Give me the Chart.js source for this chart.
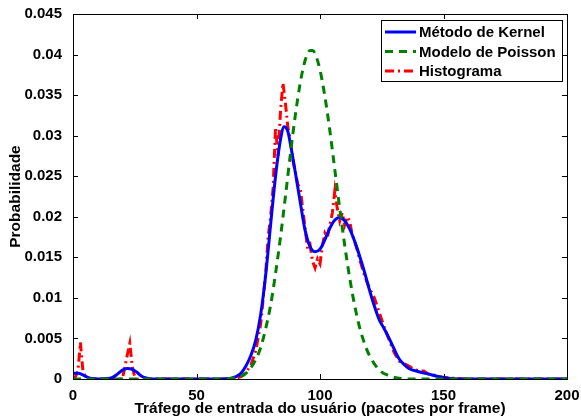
<!DOCTYPE html>
<html>
<head>
<meta charset="utf-8">
<script src="https://cdn.jsdelivr.net/npm/chart.js@4.4.1/dist/chart.umd.min.js"></script>
<style>
html,body{margin:0;padding:0;background:#fff}
</style>
</head>
<body>
<canvas id="chart" width="581" height="419"></canvas>
<script>
// values
const kernelX = [0,2,4,6,8,10,14,16,18,20,22,24,26,28,30,32,60,64,66,68,70,72,74,76,78,80,82,84,85.5,87,88,90,92,94,96,98,100,102,104,106,108,110,112,114,116,118,120,122,124,126,128,130,132,134,136,140,144,148,152,156,200];
const kernelY = [0.0007,0.0007,0.0005,0.0002,0.00005,0,0.00005,0.0002,0.0006,0.0011,0.0013,0.0012,0.0008,0.0003,0.0001,0,0,0.0001,0.0003,0.0007,0.0016,0.0029,0.0048,0.0080,0.0128,0.0190,0.0250,0.0295,0.0311,0.0305,0.0290,0.0255,0.0218,0.0183,0.0163,0.0157,0.0160,0.0172,0.0186,0.0196,0.0199,0.0195,0.0185,0.0170,0.0152,0.0132,0.0110,0.0090,0.0073,0.0062,0.0050,0.0037,0.0025,0.0018,0.0013,0.0009,0.0006,0.0003,0.0001,0,0];

const poissonX = [0,60,66,70,74,76,78,80,82,84,86,88,90,92,94,96,97,98,100,102,104,106,108,110,112,114,116,118,120,124,128,132,138,200];
const poissonY = [0,0,0.0002,0.0007,0.0024,0.0039,0.0062,0.0091,0.0130,0.0175,0.0225,0.0277,0.0325,0.0365,0.0393,0.0405,0.0405,0.0401,0.0381,0.0348,0.0306,0.0258,0.0210,0.0165,0.0125,0.0091,0.0064,0.0044,0.0029,0.0011,0.0004,0.0001,0,0];

const histX = [0,1,2,3,4,5,6,20,21,22,23,24,25,26,64,66,68,70,72,74,76,78,79,80,81,82,83,84,85,86,87,88,89,90,91,92,93,94,95,96,97,98,99,100,101,102,103,104,105,106,107,108,109,110,111,112,113,114,115,116,117,118,120,122,124,126,128,130,132,134,136,138,140,142,144,146,148,150,154,158,200];
const histY = [0,0.0003,0.0010,0.0045,0.0010,0.0003,0,0,0.0015,0.0030,0.0044,0.0015,0.0003,0,0,0.0001,0.0003,0.0008,0.0017,0.0035,0.0068,0.0130,0.0175,0.0200,0.0235,0.0310,0.0275,0.0330,0.0365,0.0340,0.0310,0.0295,0.0270,0.0255,0.0240,0.0235,0.0210,0.0185,0.0160,0.0165,0.0145,0.0137,0.0148,0.0142,0.0165,0.0180,0.0175,0.0190,0.0205,0.0232,0.0210,0.0195,0.0205,0.0190,0.0200,0.0195,0.0178,0.0170,0.0160,0.0148,0.0138,0.0128,0.0112,0.0100,0.0082,0.0064,0.0048,0.0033,0.0022,0.0019,0.0016,0.0012,0.0010,0.0010,0.0006,0.0005,0.0003,0.0002,0.0001,0,0];

const seriesNames = ["Método de Kernel", "Modelo de Poisson", "Histograma"];
const xTickValues = [0,50,100,150,200];
const xTickLabels = ["0","50","100","150","200"];
const yTickValues = [0,0.005,0.01,0.015,0.02,0.025,0.03,0.035,0.04,0.045];
const yTickLabels = ["0","0.005","0.01","0.015","0.02","0.025","0.03","0.035","0.04","0.045"];
const xTitle = "Tráfego de entrada do usuário (pacotes por frame)";
const yTitle = "Probabilidade";

const FAMILY = "'Liberation Sans', Arial, sans-serif";
const TICK_FONT = {family: FAMILY, size: 15, weight: "bold"};
const TITLE_FONT = {family: FAMILY, size: 15.5, weight: "bold"};

function pts(xs, ys){
    return xs.map((x,i)=>({x: x, y: ys[i]}));
}

// matlab style box with ticks pointing inside
const boxPlugin = {
    id: "box",
    afterDatasetsDraw(chart){
        const ctx = chart.ctx;
        const a = chart.chartArea;
        const sx = chart.scales.x, sy = chart.scales.y;
        ctx.save();
        ctx.strokeStyle = "#000";
        ctx.lineWidth = 1;
        ctx.setLineDash([]);
        ctx.strokeRect(a.left + 0.5, a.top + 0.5, a.right - a.left, a.bottom - a.top);
        ctx.beginPath();
        xTickValues.forEach(v=>{
            const px = Math.round(sx.getPixelForValue(v)) + 0.5;
            ctx.moveTo(px, a.bottom); ctx.lineTo(px, a.bottom - 5);
            ctx.moveTo(px, a.top); ctx.lineTo(px, a.top + 5);
        });
        yTickValues.forEach(v=>{
            const py = Math.round(sy.getPixelForValue(v)) + 0.5;
            ctx.moveTo(a.left, py); ctx.lineTo(a.left + 5, py);
            ctx.moveTo(a.right, py); ctx.lineTo(a.right - 5, py);
        });
        ctx.stroke();
        ctx.restore();
    }
};

// legend box inside the plot, top right
const legendPlugin = {
    id: "innerLegend",
    afterDraw(chart){
        const ctx = chart.ctx;
        const left = 381, top = 20, w = 181, h = 61;
        ctx.save();
        ctx.fillStyle = "#fff";
        ctx.fillRect(left, top, w, h);
        ctx.strokeStyle = "#000";
        ctx.lineWidth = 1;
        ctx.strokeRect(left + 0.5, top + 0.5, w, h);
        ctx.font = "bold 15px " + FAMILY;
        ctx.textBaseline = "middle";
        chart.data.datasets.forEach((ds,i)=>{
            const y = top + 12 + i * 19.5;
            ctx.strokeStyle = ds.borderColor;
            ctx.lineWidth = ds.borderWidth;
            ctx.setLineDash(ds.borderDash || []);
            ctx.beginPath();
            ctx.moveTo(left + 4, y);
            ctx.lineTo(left + 35, y);
            ctx.stroke();
            ctx.fillStyle = "#000";
            ctx.fillText(ds.label, left + 38, y + 1);
        });
        ctx.restore();
    }
};

const chart = new Chart(document.getElementById("chart"), {
    type: "line",
    data: {
        datasets: [
            {
                label: seriesNames[0],
                data: pts(kernelX, kernelY),
                borderColor: "#0000ff",
                borderWidth: 3,
                cubicInterpolationMode: "monotone",
                pointRadius: 0,
                order: 1
            },
            {
                label: seriesNames[1],
                data: pts(poissonX, poissonY),
                borderColor: "#008000",
                borderWidth: 3,
                borderDash: [8,6],
                cubicInterpolationMode: "monotone",
                pointRadius: 0,
                order: 0
            },
            {
                label: seriesNames[2],
                data: pts(histX, histY),
                borderColor: "#ff0000",
                borderWidth: 3,
                borderDash: [9,4,2,4],
                tension: 0,
                pointRadius: 0,
                order: 2
            }
        ]
    },
    options: {
        responsive: false,
        animation: false,
        layout: {padding: {top: 14, right: 14, left: 0, bottom: 0}},
        plugins: {legend: {display: false}, tooltip: {enabled: false}},
        scales: {
            x: {
                type: "linear",
                min: 0,
                max: 200,
                afterBuildTicks: s => { s.ticks = xTickValues.map(v=>({value: v})); },
                afterFit: s => { s.height = 40; },
                grid: {display: false},
                border: {display: false},
                ticks: {
                    color: "#000",
                    font: TICK_FONT,
                    padding: 0,
                    maxRotation: 0,
                    callback: (v,i) => xTickLabels[i]
                },
                title: {display: true, text: xTitle, color: "#000", font: TITLE_FONT, padding: {top: 0, bottom: 1}}
            },
            y: {
                min: 0,
                max: 0.045,
                afterBuildTicks: s => { s.ticks = yTickValues.map(v=>({value: v})); },
                afterFit: s => { s.width = 73; },
                grid: {display: false},
                border: {display: false},
                ticks: {
                    color: "#000",
                    font: TICK_FONT,
                    padding: 3,
                    callback: (v,i) => yTickLabels[i]
                },
                title: {display: true, text: yTitle, color: "#000", font: TITLE_FONT, padding: {top: 6, bottom: 0}}
            }
        }
    },
    plugins: [boxPlugin, legendPlugin]
});
</script>
</body>
</html>
